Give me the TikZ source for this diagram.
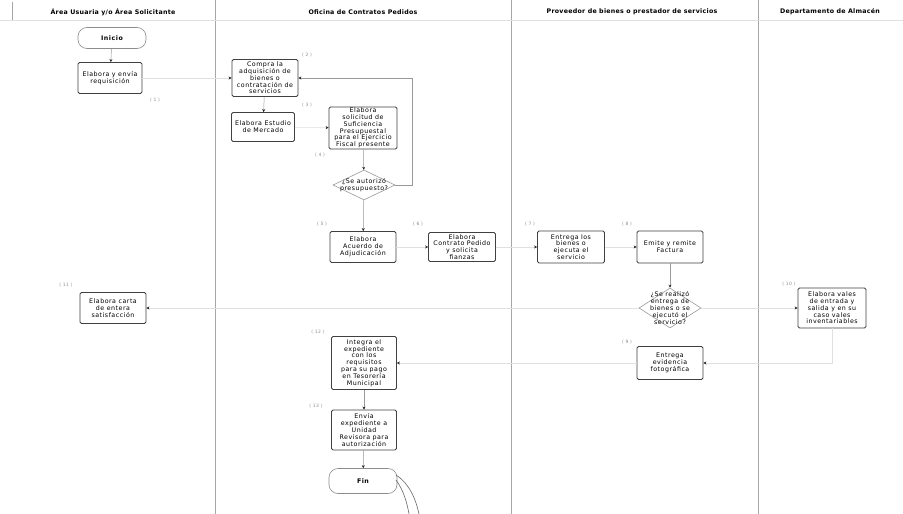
\documentclass[tikz,border=0pt]{standalone}
\usepackage{fontspec}
\setmainfont{DejaVu Sans}
\newfontfamily\boxfam[LetterSpace=8]{DejaVu Sans}
\newfontfamily\hdrfam[LetterSpace=4]{DejaVu Sans}
\newcommand\boxfont{\boxfam\fontsize{6.3}{6.8}\selectfont}
\newcommand\hdrfont{\hdrfam\bfseries\fontsize{6.3}{7}\selectfont}
\newcommand\numfont{\boxfam\fontsize{4.5}{5}\selectfont}
\usetikzlibrary{shapes.geometric,arrows.meta}
\begin{document}
\begin{tikzpicture}[x=1pt,y=-1pt,
  box/.style={draw=black!75, line width=0.8pt, rounded corners=1.5pt, fill=white, align=center, inner sep=1pt, font=\boxfont},
  term/.style={draw=black!45, line width=0.6pt, rounded corners=9pt, fill=white, font=\boxfont\bfseries},
  dec/.style={diamond, draw=black!40, line width=0.6pt, fill=white, inner sep=0pt},
  dectext/.style={align=center, font=\boxfont, inner sep=0pt},
  conn/.style={draw=black!40, line width=0.5pt, -{Stealth[length=3pt,width=3pt,color=black!85]}},
  faint/.style={draw=black!12, line width=0.5pt, -{Stealth[length=3pt,width=3pt,color=black!85]}},
  num/.style={font=\numfont, text=black!45, inner sep=0pt},
  lane/.style={draw=black!35, line width=0.6pt},
  hdr/.style={font=\hdrfont, inner sep=0pt}]
\useasboundingbox (0,0) rectangle (903,514);
\fill[white] (0,0) rectangle (903,514);

% lanes and header
\draw[lane] (215,0) -- (215,514);
\draw[lane] (511,0) -- (511,514);
\draw[lane] (758,0) -- (758,514);
\draw[lane] (12,2) -- (12,20);
\draw[draw=black!12, line width=0.4pt] (0,20) -- (903,20);
\node[hdr] (h1) at (113,12) {Área Usuaria y/o Área Solicitante};
\node[hdr] (h2) at (363,12) {Oficina de Contratos Pedidos};
\node[hdr] (h3) at (632,12) {Proveedor de bienes o prestador de servicios};
\node[hdr] (h4) at (830,12) {Departamento de Almacén};

% lane 1
\node[term, minimum width=68, minimum height=21] (ini) at (112,38) {Inicio};
\node[box, minimum width=64, minimum height=31] (req) at (110,78) {Elabora y envía\\requisición};
\node[box, minimum width=66, minimum height=31] (carta) at (113,308) {Elabora carta\\de entera\\satisfacción};

% lane 2
\node[box, minimum width=66, minimum height=37] (compra) at (265,78) {Compra la\\adquisición de\\bienes o\\contratación de\\servicios};
\node[box, minimum width=63, minimum height=29] (estudio) at (263,127) {Elabora Estudio\\de Mercado};
\node[box, minimum width=68, minimum height=42] (suf) at (363,128) {Elabora\\solicitud de\\Suficiencia\\Presupuestal\\para el Ejercicio\\Fiscal presente};
\node[dec, minimum width=62, minimum height=30] (dia1) at (364,185) {};
\node[dectext] (dia1t) at (364,185) {¿Se autorizó\\presupuesto?};
\node[box, minimum width=66, minimum height=31] (acuerdo) at (363,247) {Elabora\\Acuerdo de\\Adjudicación};
\node[box, minimum width=67, minimum height=29] (contrato) at (462,247) {Elabora\\Contrato Pedido\\y solicita\\fianzas};
\node[box, minimum width=65, minimum height=53] (integra) at (364,363) {Integra el\\expediente\\con los\\requisitos\\para su pago\\en Tesorería\\Municipal};
\node[box, minimum width=65, minimum height=40] (envia) at (364,430) {Envía\\expediente a\\Unidad\\Revisora para\\autorización};
\node[term, minimum width=68, minimum height=25] (fin) at (363,481) {Fin};

% lane 3
\node[box, minimum width=67, minimum height=32] (entrega) at (571,247) {Entrega los\\bienes o\\ejecuta el\\servicio};
\node[box, minimum width=66, minimum height=32] (emite) at (670,247) {Emite y remite\\Factura};
\node[dec, minimum width=62, minimum height=40] (dia2) at (670,308) {};
\node[dectext] (dia2t) at (670,308) {¿Se realizó\\entrega de\\bienes o se\\ejecutó el\\servicio?};
\node[box, minimum width=66, minimum height=33] (evid) at (670,363) {Entrega\\evidencia\\fotográfica};

% lane 4
\node[box, minimum width=68, minimum height=40] (vales) at (832,308) {Elabora vales\\de entrada y\\salida y en su\\caso vales\\inventariables};

% step numbers
\node[num] (n1) at (155,100) {( 1 )};
\node[num] (n2) at (307,55) {( 2 )};
\node[num] (n3) at (307,105) {( 3 )};
\node[num] (n4) at (320,155) {( 4 )};
\node[num] (n5) at (322,224) {( 5 )};
\node[num] (n6) at (418,224) {( 6 )};
\node[num] (n7) at (530,224) {( 7 )};
\node[num] (n8) at (627,224) {( 8 )};
\node[num] (n9) at (627,342) {( 9 )};
\node[num] (n10) at (789,284) {( 10 )};
\node[num] (n11) at (66,285) {( 11 )};
\node[num] (n12) at (318,332) {( 12 )};
\node[num] (n13) at (316,406) {( 13 )};

% connectors
\draw[conn] (ini) -- (req);
\draw[faint] (req) -- (compra);
\draw[conn] (compra) -- (estudio);
\draw[faint] (estudio) -- (suf);
\draw[conn] (suf) -- (dia1);
\draw[conn] (dia1.east) -- ++(17,0) |- (compra.east);
\draw[conn] (dia1) -- (acuerdo);
\draw[faint] (acuerdo) -- (contrato);
\draw[faint] (contrato) -- (entrega);
\draw[faint] (entrega) -- (emite);
\draw[conn] (emite) -- (dia2);
\draw[faint] (dia2.east) -- (vales.west);
\draw[faint] (dia2.west) -- (carta.east);
\draw[faint] (vales.south) |- (evid.east);
\draw[faint] (evid.west) -- (integra.east);
\draw[conn] (integra) -- (envia);
\draw[conn] (envia) -- (fin);

% stroke below Fin
\draw[black!60, line width=0.6pt] (396,475) .. controls (410,484) and (416,500) .. (419,514);
\draw[black!60, line width=0.6pt] (396,480) .. controls (404,491) and (407,503) .. (409,514);
\end{tikzpicture}
\end{document}
